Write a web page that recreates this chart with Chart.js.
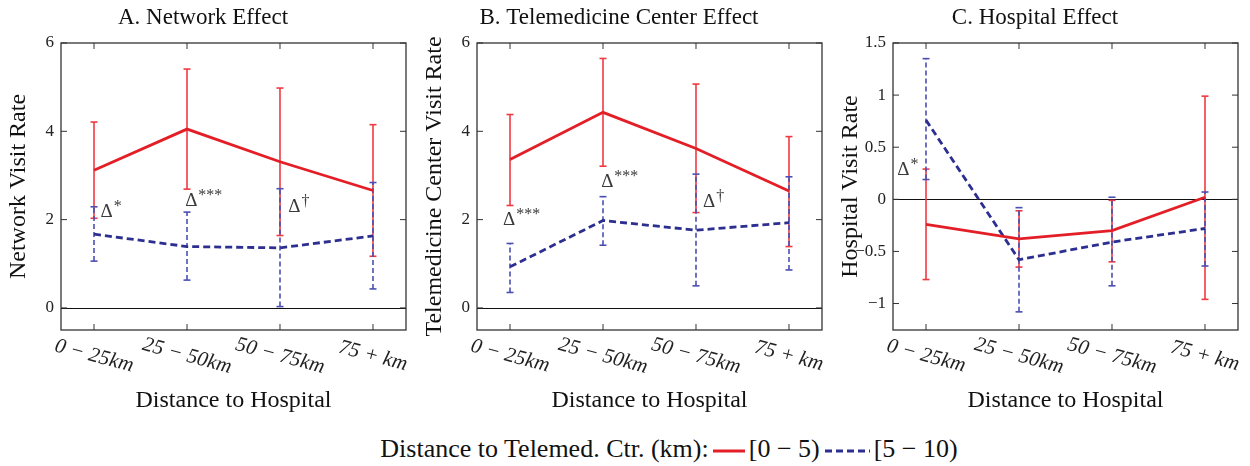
<!DOCTYPE html>
<html>
<head>
<meta charset="utf-8">
<script src="https://cdn.jsdelivr.net/npm/chart.js@4.4.1/dist/chart.umd.min.js"></script>
<style>
  body { margin: 0; background: #fff; width: 1250px; height: 466px; overflow: hidden; position: relative; font-family: "Liberation Serif", "DejaVu Serif", serif; }
  .panel { position: absolute; top: 0; width: 416px; height: 425px; }
  #legend { position: absolute; top: 434px; left: 44px; width: 1250px; text-align: center; font-size: 26px; line-height: 30px; color: #111; white-space: nowrap; }
  #legend svg { vertical-align: middle; margin: 0 3px; }
</style>
</head>
<body>
<div class="panel" style="left:0"><canvas id="chartA" width="416" height="425"></canvas></div>
<div class="panel" style="left:416px"><canvas id="chartB" width="416" height="425"></canvas></div>
<div class="panel" style="left:832px"><canvas id="chartC" width="416" height="425"></canvas></div>
<div id="legend">
  <span>Distance to Telemed. Ctr. (km):</span><svg width="34" height="10"><line x1="1" y1="5" x2="33" y2="5" stroke="#e41e26" stroke-width="3"/></svg><span>[0 − 5)</span><svg width="48" height="10"><line x1="2" y1="5" x2="47" y2="5" stroke="#2c2f8f" stroke-width="3" stroke-dasharray="7,4"/></svg><span>[5 − 10)</span>
</div>
<script>
// categories (distance to hospital)
const tickLabels = ['0 − 25km', '25 − 50km', '50 − 75km', '75 + km'];
const positions = [0, 1, 2, 3];

// A. Network effect
const netNear = [3.12, 4.05, 3.31, 2.66];
const netNearLo = [2.03, 2.69, 1.64, 1.17];
const netNearHi = [4.21, 5.41, 4.98, 4.15];
const netFar = [1.67, 1.39, 1.36, 1.63];
const netFarLo = [1.06, 0.63, 0.03, 0.43];
const netFarHi = [2.29, 2.17, 2.70, 2.84];

// B. Telemedicine center effect
const telNear = [3.36, 4.43, 3.61, 2.65];
const telNearLo = [2.32, 3.21, 2.16, 1.39];
const telNearHi = [4.38, 5.65, 5.07, 3.88];
const telFar = [0.93, 1.98, 1.76, 1.93];
const telFarLo = [0.35, 1.42, 0.50, 0.86];
const telFarHi = [1.46, 2.52, 3.03, 2.97];

// C. Hospital effect
const hosNear = [-0.24, -0.38, -0.30, 0.02];
const hosNearLo = [-0.77, -0.65, -0.60, -0.96];
const hosNearHi = [0.29, -0.11, -0.01, 0.99];
const hosFar = [0.76, -0.58, -0.41, -0.28];
const hosFarLo = [0.19, -1.08, -0.83, -0.64];
const hosFarHi = [1.35, -0.08, 0.02, 0.07];

// significance marks
const marksA = ['*', '***', '†'];
const marksB = ['***', '***', '†'];
const marksC = ['*'];

const SERIF = '"Liberation Serif", "DejaVu Serif", serif';
const RED = '#e41e26', BLUE = '#2c2f8f';

function pts(vals) { return vals.map((v, i) => ({ x: positions[i], y: v })); }

function seg(ctx, x1, y1, x2, y2) { ctx.beginPath(); ctx.moveTo(x1, y1); ctx.lineTo(x2, y2); ctx.stroke(); }

// error bars, zero line, frame, inward ticks, rotated x labels, delta marks
const decoPlugin = {
  id: 'deco',
  beforeDatasetsDraw(chart) {
    const { ctx, chartArea: a, scales: { x, y } } = chart;
    ctx.save();
    ctx.strokeStyle = '#111'; ctx.lineWidth = 1;
    const y0 = Math.round(y.getPixelForValue(0)) + 0.5;
    seg(ctx, a.left, y0, a.right, y0);
    chart.data.datasets.forEach(ds => {
      ctx.strokeStyle = ds.errColor;
      ctx.lineWidth = 1.6;
      ctx.setLineDash(ds.errDash || []);
      ds.data.forEach((p, i) => {
        const px = x.getPixelForValue(p.x);
        const lo = y.getPixelForValue(ds.errLo[i]);
        const hi = y.getPixelForValue(ds.errHi[i]);
        seg(ctx, px, lo, px, hi);
        ctx.setLineDash([]);
        seg(ctx, px - 3.5, lo, px + 3.5, lo);
        seg(ctx, px - 3.5, hi, px + 3.5, hi);
        ctx.setLineDash(ds.errDash || []);
      });
    });
    ctx.restore();
  },
  afterDraw(chart) {
    const { ctx, chartArea: a, scales: { x, y } } = chart;
    const o = chart.options.plugins.deco;
    ctx.save();
    // frame
    ctx.strokeStyle = '#333'; ctx.lineWidth = 1.3;
    ctx.strokeRect(a.left, a.top, a.right - a.left, a.bottom - a.top);
    // ticks inward
    ctx.lineWidth = 1;
    positions.forEach(v => {
      const px = x.getPixelForValue(v);
      seg(ctx, px, a.bottom, px, a.bottom - 6);
      seg(ctx, px, a.top, px, a.top + 6);
    });
    y.ticks.forEach(t => {
      const py = y.getPixelForValue(t.value);
      seg(ctx, a.left, py, a.left + 6, py);
      seg(ctx, a.right, py, a.right - 6, py);
    });
    // rotated x labels, "km" in italic
    ctx.fillStyle = '#222';
    ctx.textBaseline = 'middle';
    tickLabels.forEach((lab, i) => {
      const num = lab.replace('km', '');
      ctx.save();
      ctx.translate(x.getPixelForValue(positions[i]), a.bottom + 26);
      ctx.rotate(15 * Math.PI / 180);
      ctx.font = 'italic 21px ' + SERIF;
      const w1 = ctx.measureText(num).width;
      const w2 = ctx.measureText('km').width;
      const sx = -(w1 + w2) / 2;
      ctx.fillText(num, sx, 0);
      ctx.fillText('km', sx + w1, 0);
      ctx.restore();
    });
    // delta marks
    ctx.fillStyle = '#3a3a3a';
    ctx.textBaseline = 'alphabetic';
    o.marks.forEach((m, k) => {
      const pos = o.markPos[k];
      const px = x.getPixelForValue(pos[0]);
      const py = y.getPixelForValue(pos[1]);
      ctx.font = '19px ' + SERIF;
      ctx.fillText('Δ', px, py);
      const w = ctx.measureText('Δ').width;
      ctx.font = '16px ' + SERIF;
      ctx.fillText(m, px + w + 1, py - 6);
    });
    ctx.restore();
  }
};

function makeChart(id, title, yTitle, near, nearLo, nearHi, far, farLo, farHi, yMin, yMax, step, marks, markPos) {
  return new Chart(document.getElementById(id), {
    type: 'line',
    data: {
      datasets: [
        { label: '[0 − 5)', data: pts(near), errLo: nearLo, errHi: nearHi, errColor: '#ef3a42',
          borderColor: RED, borderWidth: 2.8, pointRadius: 0, tension: 0, fill: false },
        { label: '[5 − 10)', data: pts(far), errLo: farLo, errHi: farHi, errColor: '#4a4fb3', errDash: [5, 3],
          borderColor: BLUE, borderWidth: 2.8, borderDash: [7, 4], pointRadius: 0, tension: 0, fill: false }
      ]
    },
    options: {
      responsive: false,
      animation: false,
      layout: { padding: { left: 0, right: 10, top: 0, bottom: 0 } },
      plugins: {
        legend: { display: false },
        tooltip: { enabled: false },
        title: { display: true, text: title, color: '#111', font: { family: SERIF, size: 23, weight: 'normal' }, padding: { top: 4, bottom: 11.4 } },
        deco: { marks: marks, markPos: markPos }
      },
      scales: {
        x: {
          type: 'linear', min: -0.355, max: 3.355,
          grid: { display: false }, border: { display: false },
          ticks: { display: false },
          title: { display: true, text: 'Distance to Hospital', color: '#111', font: { family: SERIF, size: 24 }, padding: { top: 0, bottom: 10 } },
          afterFit(s) { s.height = 95; }
        },
        y: {
          min: yMin, max: yMax,
          grid: { display: false, drawTicks: false }, border: { display: false },
          ticks: { stepSize: step, includeBounds: false, color: '#222', padding: 7, font: { family: SERIF, size: 17 },
                   callback: v => String(v).replace('-', '−') },
          title: { display: true, text: yTitle, color: '#111', font: { family: SERIF, size: 24 }, padding: { top: 4, bottom: 0 } },
          afterFit(s) { s.width = 61; }
        }
      }
    },
    plugins: [decoPlugin]
  });
}

makeChart('chartA', 'A. Network Effect', 'Network Visit Rate',
  netNear, netNearLo, netNearHi, netFar, netFarLo, netFarHi, -0.5, 6, 2,
  marksA, [[0.07, 2.06], [0.98, 2.31], [2.09, 2.17]]);

makeChart('chartB', 'B. Telemedicine Center Effect', 'Telemedicine Center Visit Rate',
  telNear, telNearLo, telNearHi, telFar, telFarLo, telFarHi, -0.5, 6, 2,
  marksB, [[-0.075, 1.88], [0.98, 2.74], [2.075, 2.29]]);

makeChart('chartC', 'C. Hospital Effect', 'Hospital Visit Rate',
  hosNear, hosNearLo, hosNearHi, hosFar, hosFarLo, hosFarHi, -1.254, 1.5, 0.5,
  marksC, [[-0.31, 0.23]]);
</script>
</body>
</html>
